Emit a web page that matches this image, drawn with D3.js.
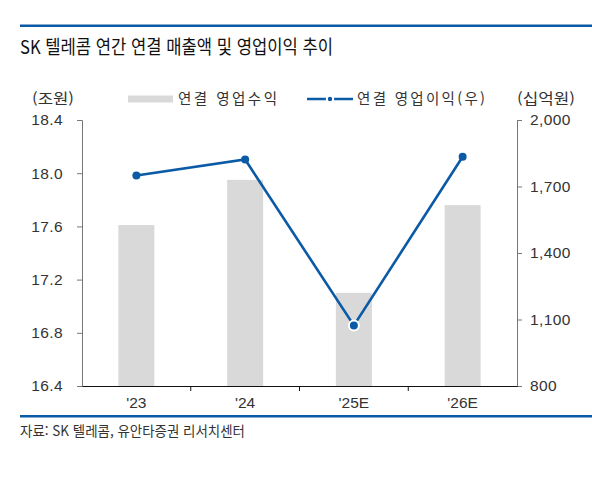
<!DOCTYPE html>
<html lang="ko">
<head>
  <meta charset="UTF-8">
  <title>SK 텔레콤 연간 연결 매출액 및 영업이익 추이</title>
  <script src="https://d3js.org/d3.v7.min.js"></script>
  <style>
    * { margin: 0; padding: 0; }
    body { background: #fff; }
    svg { display: block; }
  </style>
</head>
<body>
  <div class="chart"></div>
  <script>
    var width = 592;
    var height = 479;

    // data
    var years = ["'23", "'24", "'25E", "'26E"];
    var revenue = [17.61, 17.95, 17.10, 17.76];      // 조원
    var opIncome = [1750, 1822, 1073, 1834];          // 십억원
    var leftTicks = [16.4, 16.8, 17.2, 17.6, 18.0, 18.4];
    var rightTicks = [800, 1100, 1400, 1700, 2000];

    var blue = '#0b5aa5';
    var barColor = '#d9d9d9';
    var krFont = '"Noto Sans CJK KR", sans-serif';
    var numFont = '"Liberation Sans", Arial, sans-serif';

    var plot = { left: 82, right: 517, top: 120, bottom: 386 };

    var svg = d3.select('.chart')
      .append('svg')
      .attr('width', width)
      .attr('height', height);

    // top and bottom rules
    svg.append('rect').attr('x', 20).attr('y', 24.5).attr('width', width - 20).attr('height', 2.5).attr('fill', blue);
    svg.append('rect').attr('x', 20).attr('y', 415).attr('width', width - 20).attr('height', 2.5).attr('fill', blue);

    // title
    svg.append('text')
      .attr('x', 20)
      .attr('y', 53.5)
      .attr('textLength', 313)
      .attr('lengthAdjust', 'spacingAndGlyphs')
      .style('font-family', krFont)
      .style('font-size', '19px')
      .style('font-weight', 400)
      .attr('fill', '#111')
      .text('SK 텔레콤 연간 연결 매출액 및 영업이익 추이');

    // scales
    var x = d3.scaleBand()
      .domain(years)
      .range([plot.left, plot.right]);
    var yL = d3.scaleLinear()
      .domain([16.4, 18.4])
      .range([plot.bottom, plot.top]);
    var yR = d3.scaleLinear()
      .domain([800, 2000])
      .range([plot.bottom, plot.top]);

    var barW = 36;

    // bars
    svg.selectAll('.bar')
      .data(revenue)
      .enter()
      .append('rect')
      .attr('class', 'bar')
      .attr('x', function (d, i) { return x(years[i]) + x.bandwidth() / 2 - barW / 2; })
      .attr('y', function (d) { return yL(d); })
      .attr('width', barW)
      .attr('height', function (d) { return plot.bottom - yL(d); })
      .attr('fill', barColor);

    // left axis
    var leftAxis = svg.append('g')
      .attr('transform', 'translate(' + plot.left + ',0)')
      .call(d3.axisLeft(yL).tickValues(leftTicks).tickSize(5).tickPadding(14).tickFormat(d3.format('.1f')));
    leftAxis.select('.domain').attr('stroke', '#777');
    leftAxis.selectAll('.tick line').attr('stroke', '#777');
    leftAxis.selectAll('text')
      .style('font-family', numFont)
      .style('font-size', '15.5px')
      .style('letter-spacing', '0.4px')
      .attr('fill', '#333');

    // right axis
    var rightAxis = svg.append('g')
      .attr('transform', 'translate(' + plot.right + ',0)')
      .call(d3.axisRight(yR).tickValues(rightTicks).tickSize(5).tickPadding(8).tickFormat(d3.format(',')));
    rightAxis.select('.domain').attr('stroke', '#777');
    rightAxis.selectAll('.tick line').attr('stroke', '#777');
    rightAxis.selectAll('text')
      .style('font-family', numFont)
      .style('font-size', '15.5px')
      .style('letter-spacing', '0.4px')
      .attr('fill', '#333');

    // bottom axis
    var bottomAxis = svg.append('g')
      .attr('transform', 'translate(0,' + plot.bottom + ')')
      .call(d3.axisBottom(x).tickSize(0).tickPadding(11));
    bottomAxis.select('.domain').attr('stroke', '#111');
    bottomAxis.selectAll('text')
      .style('font-family', numFont)
      .style('font-size', '15.5px')
      .attr('fill', '#333');
    bottomAxis.selectAll('.sep')
      .data(years.slice(1))
      .enter()
      .append('line')
      .attr('class', 'sep')
      .attr('x1', function (d) { return x(d); })
      .attr('x2', function (d) { return x(d); })
      .attr('y1', 0)
      .attr('y2', 5)
      .attr('stroke', '#111');

    // line
    var line = d3.line()
      .x(function (d, i) { return x(years[i]) + x.bandwidth() / 2; })
      .y(function (d) { return yR(d); });

    svg.append('path')
      .attr('d', line(opIncome))
      .attr('fill', 'none')
      .attr('stroke', blue)
      .attr('stroke-width', 2.6);

    svg.selectAll('.dot')
      .data(opIncome)
      .enter()
      .append('circle')
      .attr('class', 'dot')
      .attr('cx', function (d, i) { return x(years[i]) + x.bandwidth() / 2; })
      .attr('cy', function (d) { return yR(d); })
      .attr('r', function (d, i) { return i == 2 ? 5 : 4; })
      .attr('fill', blue)
      .attr('stroke', function (d, i) { return i == 2 ? '#fff' : 'none'; })
      .attr('stroke-width', 2);

    // units
    var legendY = 99;
    svg.append('text')
      .attr('x', 32).attr('y', legendY).attr('dy', '0.35em')
      .attr('textLength', 42).attr('lengthAdjust', 'spacingAndGlyphs')
      .style('font-family', krFont).style('font-size', '14.5px').attr('fill', '#333')
      .text('(조원)');
    svg.append('text')
      .attr('x', 517).attr('y', legendY).attr('dy', '0.35em')
      .attr('textLength', 58).attr('lengthAdjust', 'spacingAndGlyphs')
      .style('font-family', krFont).style('font-size', '14.5px').attr('fill', '#333')
      .text('(십억원)');

    // legend
    svg.append('rect')
      .attr('x', 128).attr('y', legendY - 3.5)
      .attr('width', 45).attr('height', 7)
      .attr('fill', barColor);
    svg.append('text')
      .attr('x', 178).attr('y', legendY).attr('dy', '0.35em')
      .attr('textLength', 99).attr('lengthAdjust', 'spacing')
      .style('font-family', krFont).style('font-size', '14.5px').attr('fill', '#333')
      .text('연결 영업수익');

    svg.append('line')
      .attr('x1', 307).attr('x2', 353)
      .attr('y1', legendY).attr('y2', legendY)
      .attr('stroke', blue).attr('stroke-width', 2.6);
    svg.append('circle')
      .attr('cx', 330).attr('cy', legendY).attr('r', 3.2)
      .attr('fill', blue).attr('stroke', '#fff').attr('stroke-width', 2);
    svg.append('text')
      .attr('x', 357).attr('y', legendY).attr('dy', '0.35em')
      .attr('textLength', 128).attr('lengthAdjust', 'spacing')
      .style('font-family', krFont).style('font-size', '14.5px').attr('fill', '#333')
      .text('연결 영업이익(우)');

    // source
    svg.append('text')
      .attr('x', 20).attr('y', 431).attr('dy', '0.35em')
      .attr('textLength', 225).attr('lengthAdjust', 'spacingAndGlyphs')
      .style('font-family', krFont).style('font-size', '14px').attr('fill', '#333')
      .text('자료: SK 텔레콤, 유안타증권 리서치센터');
  </script>
</body>
</html>
